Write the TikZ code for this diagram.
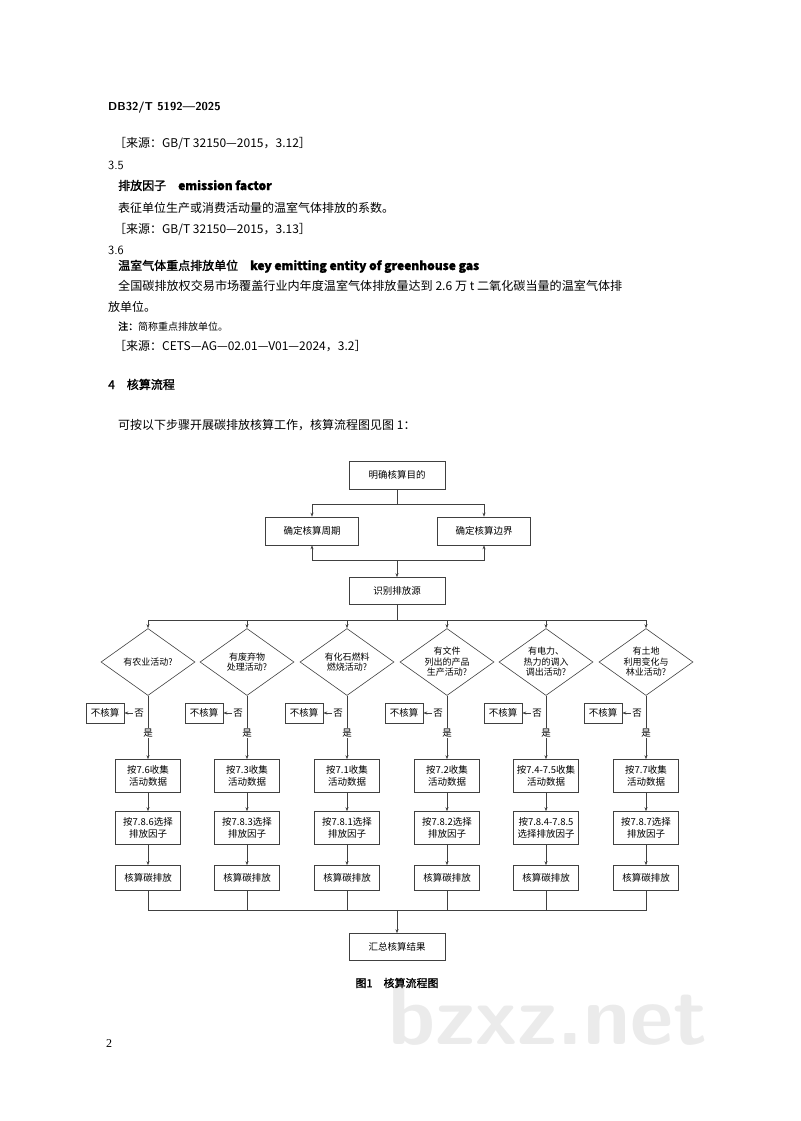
\documentclass[tikz,border=0pt]{standalone}
\usepackage{fontspec}
\setmainfont{Liberation Serif}
\newfontfamily\cjk{Noto Sans CJK SC}
\newfontfamily\hei{Noto Sans CJK SC}[FakeBold=1.5]
\usetikzlibrary{shapes.geometric,arrows.meta,positioning}
\tikzset{
  line/.style={draw=black!75,line width=0.6pt},
  arr/.style={line,-{Stealth[length=4pt,width=3pt]}},
  box/.style={line,rectangle,align=center,inner sep=2pt,font=\cjk\fontsize{9.5}{11.5}\selectfont},
  dia/.style={line,diamond,aspect=1.4,minimum width=94pt,minimum height=67pt,inner sep=0pt,align=center,font=\cjk\fontsize{9}{10.5}\selectfont},
  txt/.style={anchor=base west,inner sep=0pt,font=\cjk\fontsize{12}{14}\selectfont},
  lbl/.style={inner sep=1pt,fill=white,font=\cjk\fontsize{9.5}{11}\selectfont}
}
\begin{document}
\begin{tikzpicture}[x=1pt,y=-1pt]
\useasboundingbox (0,0) rectangle (800,1121);

%页面文字
\node[txt,font=\sffamily\bfseries\fontsize{11.5}{13}\selectfont] (tHead) at (108,111) {DB32/T 5192—2025};
\node[txt] (tSrcA) at (114,147) {［来源：GB/T 32150—2015，3.12］};
\node[txt,font=\sffamily\fontsize{12.5}{14}\selectfont] (tNumA) at (108,169) {3.5};
\node[txt,font=\hei\fontsize{12}{14}\selectfont] (tTermA) at (118,190) {排放因子\quad\textbf{emission factor}};
\node[txt] (tDefA) at (118,212) {表征单位生产或消费活动量的温室气体排放的系数。};
\node[txt] (tSrcB) at (114,233) {［来源：GB/T 32150—2015，3.13］};
\node[txt,font=\sffamily\fontsize{12.5}{14}\selectfont] (tNumB) at (108,254) {3.6};
\node[txt,font=\hei\fontsize{12}{14}\selectfont] (tTermB) at (118,270) {温室气体重点排放单位\quad\textbf{key emitting entity of greenhouse gas}};
\node[txt,font=\cjk\fontsize{12.1}{14}\selectfont] (tDefB) at (118,290) {全国碳排放权交易市场覆盖行业内年度温室气体排放量达到 2.6 万 t 二氧化碳当量的温室气体排};
\node[txt] (tDefC) at (108,311) {放单位。};
\node[txt,font=\cjk\fontsize{10}{12}\selectfont] (tNote) at (118,330) {\hei 注：\cjk 简称重点排放单位。};
\node[txt] (tSrcC) at (114,350) {［来源：CETS—AG—02.01—V01—2024，3.2］};
\node[txt,font=\hei\fontsize{12}{14}\selectfont] (tSec) at (108,389) {4\quad 核算流程};
\node[txt] (tIntro) at (118,429) {可按以下步骤开展碳排放核算工作，核算流程图见图 1：};
\node[txt,font=\fontsize{12}{14}\selectfont] (tPage) at (106,1047) {2};

%水印
\node[font=\sffamily\bfseries\fontsize{84}{84}\selectfont,text=black!8,inner sep=0pt] (wMark) at (548,1016) {bzxz.net};

%流程图上部
\node[box,minimum width=96pt,minimum height=28pt] (nGoal) at (397,475) {明确核算目的};
\node[box,minimum width=93pt,minimum height=28pt] (nPeriod) at (312,531) {确定核算周期};
\node[box,minimum width=93pt,minimum height=28pt] (nBound) at (484,531) {确定核算边界};
\node[box,minimum width=96pt,minimum height=27pt] (nIdent) at (397,591) {识别排放源};
\node[box,minimum width=96pt,minimum height=27pt] (nSum) at (397,947) {汇总核算结果};

\coordinate (cTopJ) at (397,504);
\coordinate (cMidJ) at (397,560);
\coordinate (cBrJ) at (397,620);
\coordinate (cEndJ) at (397,910);

\draw[line] (nGoal) -- (cTopJ);
\draw[arr] (cTopJ) -| (nPeriod);
\draw[arr] (cTopJ) -| (nBound);
\draw[arr] (cMidJ) -| (nPeriod);
\draw[arr] (cMidJ) -| (nBound);
\draw[arr] (cMidJ) -- (nIdent);
\draw[line] (nIdent) -- (cBrJ);
\draw[arr] (cEndJ) -- (nSum);

%六个分支
\foreach \i/\x/\q/\a/\b in
{1/148/{有农业活动?}/{按7.6收集\\活动数据}/{按7.8.6选择\\排放因子},
 2/247/{有废弃物\\处理活动?}/{按7.3收集\\活动数据}/{按7.8.3选择\\排放因子},
 3/347/{有化石燃料\\燃烧活动?}/{按7.1收集\\活动数据}/{按7.8.1选择\\排放因子},
 4/447/{有文件\\列出的产品\\生产活动?}/{按7.2收集\\活动数据}/{按7.8.2选择\\排放因子},
 5/546/{有电力、\\热力的调入\\调出活动?}/{按7.4-7.5收集\\活动数据}/{按7.8.4-7.8.5\\选择排放因子},
 6/646/{有土地\\利用变化与\\林业活动?}/{按7.7收集\\活动数据}/{按7.8.7选择\\排放因子}}
{
    \node[dia] (nQ\i) at (\x,662) {\q};
    \node[box,minimum width=38pt,minimum height=20pt] (nSkip\i) at (\x-43,713) {不核算};
    \node[lbl] (nNo\i) at (\x-9,713) {否};
    \node[lbl] (nYes\i) at (\x,733) {是};
    \node[box,minimum width=65pt,minimum height=33pt] (nData\i) at (\x,776) {\a};
    \node[box,minimum width=65pt,minimum height=33pt] (nFac\i) at (\x,828) {\b};
    \node[box,minimum width=65pt,minimum height=25pt] (nCalc\i) at (\x,878) {核算碳排放};
    \draw[arr] (cBrJ) -| (nQ\i);
    \draw[line] (nQ\i.south) -- (nYes\i);
    \draw[arr] (nYes\i) -- (nData\i);
    \draw[arr] (nNo\i) -- (nSkip\i);
    \draw[arr] (nData\i) -- (nFac\i);
    \draw[arr] (nFac\i) -- (nCalc\i);
    \draw[line] (nCalc\i) |- (cEndJ);
};

%图题
\node[font=\hei\fontsize{11}{13}\selectfont,inner sep=0pt] (tCap) at (397,983) {图1\quad 核算流程图};
\end{tikzpicture}
\end{document}
